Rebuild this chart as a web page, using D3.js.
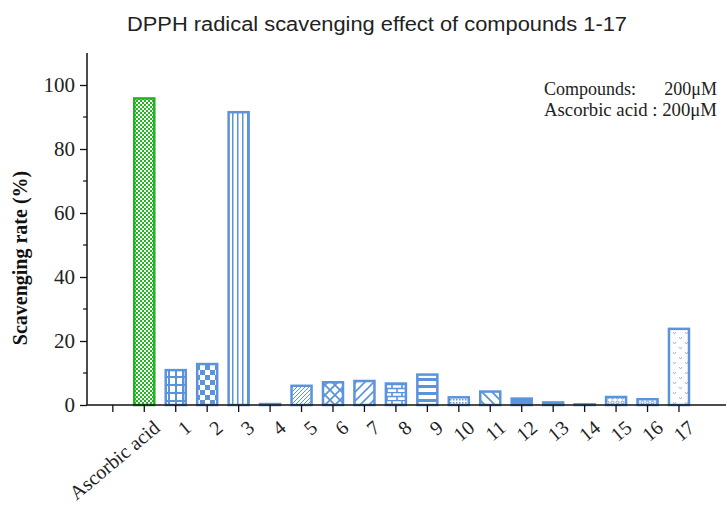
<!DOCTYPE html>
<html><head><meta charset="utf-8">
<script src="https://cdn.jsdelivr.net/npm/d3@7"></script>
<style>body{margin:0;background:#fff}svg{display:block}</style>
</head><body>
<svg id="c" width="727" height="510"></svg>
<script>
const categories = ["", "Ascorbic acid", "1","2","3","4","5","6","7","8","9","10","11","12","13","14","15","16","17"];
const values = [null, 95.8, 10.9, 12.8, 91.5, 0.3, 6.0, 7.1, 7.5, 6.7, 9.5, 2.4, 4.2, 2.0, 0.8, 0.2, 2.5, 1.8, 23.8];
const patterns = [null, "greenCheck", "grid", "checker", "vlines", "solid", "fineDiag", "diagCross", "wideDiag", "brick", "hbars", "fineDots", "backDiag", "solid", "solid", "solid", "circles", "circles", "vees"];
const yTicks = [0, 20, 40, 60, 80, 100];
const yMinor = [10, 30, 50, 70, 90];

const svg = d3.select("#c");
const blue = "#5b93dc", green = "#1fb51f";
const defs = svg.append("defs");
function pat(id, w, h, draw, bg) {
  const p = defs.append("pattern").attr("id", id).attr("patternUnits", "userSpaceOnUse").attr("width", w).attr("height", h);
  p.append("rect").attr("width", w).attr("height", h).attr("fill", bg || "#fff");
  draw(p);
}
pat("greenCheck", 4, 4, p => { p.append("rect").attr("width",2).attr("height",2).attr("fill",green); p.append("rect").attr("x",2).attr("y",2).attr("width",2).attr("height",2).attr("fill",green); });
pat("grid", 7, 8, p => { p.append("rect").attr("x",0).attr("width",2).attr("height",8).attr("fill",blue); p.append("rect").attr("y",0).attr("width",7).attr("height",2).attr("fill",blue); });
pat("checker", 10, 10, p => { p.append("rect").attr("width",5).attr("height",5).attr("fill",blue); p.append("rect").attr("x",5).attr("y",5).attr("width",5).attr("height",5).attr("fill",blue); });
pat("vlines", 5, 10, p => { p.append("rect").attr("x",2).attr("width",1.5).attr("height",10).attr("fill",blue); });
pat("fineDiag", 4, 4, p => { p.append("path").attr("d","M-1,1 L1,-1 M0,4 L4,0 M3,5 L5,3").attr("stroke",blue).attr("stroke-width",1); });
pat("diagCross", 10, 10, p => { p.append("path").attr("d","M0,0 L10,10 M10,0 L0,10").attr("stroke",blue).attr("stroke-width",1.8); });
pat("wideDiag", 9, 9, p => { p.append("path").attr("d","M-2,2 L2,-2 M0,9 L9,0 M7,11 L11,7").attr("stroke",blue).attr("stroke-width",1.6); });
pat("brick", 10, 8, p => { p.append("path").attr("d","M0,0.5 H10 M0,4.5 H10 M2,0 V4 M7,4 V8").attr("stroke",blue).attr("stroke-width",1.6); });
pat("hbars", 10, 7, p => { p.append("rect").attr("y",0).attr("width",10).attr("height",3).attr("fill",blue); });
pat("fineDots", 3, 3, p => { p.append("rect").attr("width",1.5).attr("height",1.5).attr("fill",blue); });
pat("backDiag", 10, 10, p => { p.append("path").attr("d","M-2,-2 L12,12 M-2,8 L2,12 M8,-2 L12,2").attr("stroke",blue).attr("stroke-width",1.8); });
pat("circles", 5, 5, p => { p.append("circle").attr("cx",2.5).attr("cy",2.5).attr("r",1.5).attr("fill","none").attr("stroke",blue).attr("stroke-width",0.9); }, "#fff");
pat("vees", 12, 10, p => { p.append("path").attr("d","M1,2 L2.5,4 L4,2 M7,7 L8.5,9 L10,7").attr("fill","none").attr("stroke","#8aa8d0").attr("stroke-width",0.8); });

const y0 = 405, yTop = 53;
const y = d3.scaleLinear().domain([0, 110]).range([y0, yTop]);
const x = d3.scaleBand().domain(categories).range([97.1, 694.7]).paddingInner(0.3).paddingOuter(0.15);
const axisX0 = 87;
const serif = "Liberation Serif, Times New Roman, serif";

// title
svg.append("text").attr("x", 377).attr("y", 31).attr("text-anchor","middle")
  .attr("font-family","Liberation Sans, Arial, sans-serif").attr("font-size",20).attr("fill","#222")
  .attr("textLength", 500).attr("lengthAdjust","spacingAndGlyphs")
  .text("DPPH radical scavenging effect of compounds 1-17");

// bars
const data = categories.map((c,i)=>({c, v: values[i], p: patterns[i]})).filter(d=>d.v!==null);
svg.append("g").selectAll("rect").data(data).join("rect")
  .attr("x", d=>x(d.c)+1).attr("width", x.bandwidth()-2)
  .attr("y", d=>y(d.v)).attr("height", d=>y0-y(d.v))
  .attr("fill", d=> d.p==="solid" ? blue : `url(#${d.p})`)
  .attr("stroke", d=> d.c==="Ascorbic acid" ? green : blue)
  .attr("stroke-width", 2.5);

// y axis
const gy = svg.append("g").attr("transform", `translate(${axisX0},0)`);
gy.call(d3.axisLeft(y).tickValues(yTicks).tickSize(7).tickSizeOuter(0).tickPadding(5));
gy.select(".domain").attr("d", `M0,${yTop}V${y0}`).attr("stroke","#111").attr("stroke-width",1.5);
gy.selectAll(".tick line").attr("stroke","#111").attr("stroke-width",1.3);
gy.selectAll(".tick text").attr("font-family",serif).attr("font-size",21).attr("fill","#222");
gy.selectAll(".minor").data(yMinor).join("line").attr("class","minor")
  .attr("x1",-4).attr("x2",0).attr("y1",d=>y(d)).attr("y2",d=>y(d)).attr("stroke","#111").attr("stroke-width",1.2);

// x axis
const gx = svg.append("g").attr("transform", `translate(0,${y0})`);
gx.call(d3.axisBottom(x).tickSize(7).tickSizeOuter(0).tickFormat(()=>""));
gx.select(".domain").attr("d", `M${axisX0},0H726`).attr("stroke","#111").attr("stroke-width",1.5);
gx.selectAll(".tick line").attr("stroke","#111").attr("stroke-width",1.3);
gx.selectAll(".lbl").data(categories.filter(c=>c!=="")).join("text").attr("class","lbl")
  .attr("transform", d=>`translate(${x(d)+x.bandwidth()/2+8},${14}) rotate(-40)`)
  .attr("text-anchor","end").attr("dy","0.7em")
  .attr("font-family",serif).attr("font-size",20).attr("fill","#222")
  .text(d=>d);

// y title
svg.append("text").attr("transform","translate(27,258) rotate(-90)").attr("text-anchor","middle")
  .attr("font-family",serif).attr("font-weight","bold").attr("font-size",20).attr("fill","#111")
  .text("Scavenging rate (%)");

// annotation
const ann = svg.append("g").attr("font-family",serif).attr("font-size",18).attr("fill","#222");
ann.append("text").attr("x",544).attr("y",95).text("Compounds:");
ann.append("text").attr("x",717).attr("y",95).attr("text-anchor","end").text("200μM");
ann.append("text").attr("x",544).attr("y",116).attr("textLength",173).attr("lengthAdjust","spacingAndGlyphs").text("Ascorbic acid : 200μM");
</script>
</body></html>
